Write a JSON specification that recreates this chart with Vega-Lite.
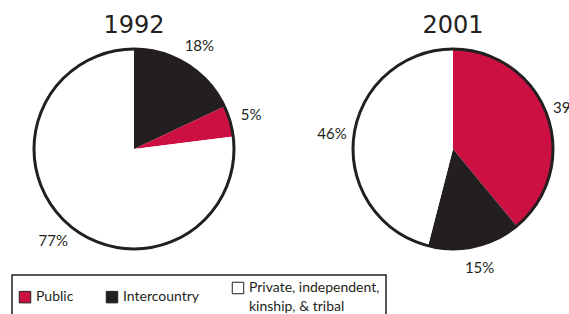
{
  "$schema": "https://vega.github.io/schema/vega-lite/v6.json",
  "padding": {"left": 0, "top": 14, "right": 0, "bottom": 60},
  "background": "white",
  "data": {"values": [
    {"year": 1992, "type": "Intercountry", "share": 0.18},
    {"year": 1992, "type": "Public", "share": 0.05},
    {"year": 1992, "type": "Private, independent, kinship, & tribal", "share": 0.77},
    {"year": 2001, "type": "Public", "share": 0.39},
    {"year": 2001, "type": "Intercountry", "share": 0.15},
    {"year": 2001, "type": "Private, independent, kinship, & tribal", "share": 0.46}
  ]},
  "transform": [{"window": [{"op": "row_number", "as": "slice"}]}],
  "facet": {
    "column": {
      "field": "year", "type": "ordinal", "title": null,
      "header": {"labelFontSize": 24, "labelFont": "DejaVu Sans", "labelColor": "#231F20", "labelPadding": 0}
    }
  },
  "spacing": 49,
  "spec": {
    "width": 268,
    "height": 200,
    "layer": [
      {
        "mark": {"type": "arc", "radius": 100, "stroke": null},
        "encoding": {
          "theta": {"field": "share", "type": "quantitative", "stack": true},
          "order": {"field": "slice", "type": "quantitative"},
          "color": {
            "field": "type", "type": "nominal",
            "scale": {"domain": ["Public", "Intercountry", "Private, independent, kinship, & tribal"], "range": ["#CC1041", "#231F20", "#FFFFFF"]},
            "legend": {
              "orient": "none", "legendX": 12, "legendY": 226, "direction": "horizontal", "title": null,
              "symbolType": "square", "symbolSize": 132, "symbolStrokeColor": "#231F20", "symbolStrokeWidth": 1,
              "labelFont": "Lato", "labelFontSize": 14, "labelColor": "#231F20", "labelOffset": 4, "labelLimit": 220,
              "columnPadding": 30, "strokeColor": "#231F20", "padding": 6,
              "labelExpr": "datum.label == 'Private, independent, kinship, & tribal' ? ['Private, independent,', 'kinship, & tribal'] : datum.label",
              "encode": {"labels": {"update": {"lineHeight": {"value": 19}}}, "legend": {"update": {"strokeWidth": {"value": 1.5}}}}
            }
          }
        }
      },
      {
        "transform": [{"aggregate": [{"op": "sum", "field": "share", "as": "total"}], "groupby": ["year"]}],
        "mark": {"type": "point", "size": 40000, "filled": false, "stroke": "#231F20", "strokeWidth": 3, "opacity": 1},
        "encoding": {}
      },
      {
        "mark": {"type": "text", "radius": 122, "font": "Lato", "fontSize": 15, "color": "#231F20"},
        "encoding": {
          "theta": {"field": "share", "type": "quantitative", "stack": true},
          "order": {"field": "slice", "type": "quantitative"},
          "text": {"field": "share", "type": "quantitative", "format": ".0%"}
        }
      }
    ]
  }
}
